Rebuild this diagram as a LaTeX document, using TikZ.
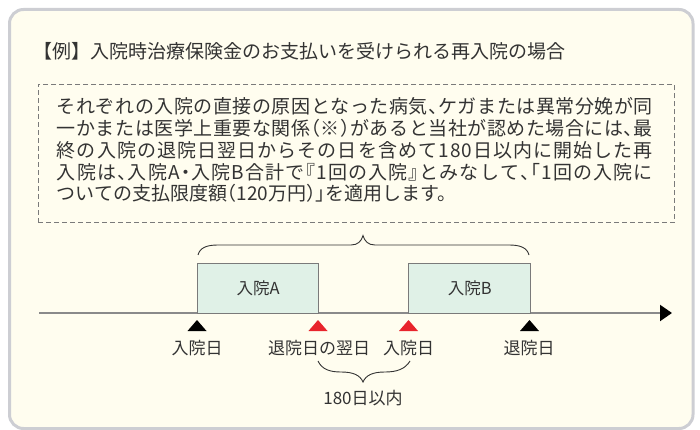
\documentclass[tikz,border=0pt]{standalone}
\usepackage{fontspec}
\setmainfont{Noto Sans CJK JP}
\newfontfamily\bodyfont[RawFeature=+halt]{Noto Sans CJK JP}
\usetikzlibrary{arrows.meta}
\definecolor{cream}{HTML}{FFFDEF}
\definecolor{outerline}{HTML}{CDCED3}
\definecolor{txt}{HTML}{333333}
\definecolor{dashcol}{HTML}{7A7A7A}
\definecolor{mint}{HTML}{E0F1E7}
\definecolor{boxline}{HTML}{7A7A7A}
\definecolor{axisgray}{HTML}{8A8A8A}
\definecolor{mred}{HTML}{E8242C}
\makeatletter
\def\my@spread#1{\ifx#1\@nil\else#1\hskip 0pt plus 1fil\relax\expandafter\my@spread\fi}
\newcommand\jline[1]{\hbox to 596pt{\my@spread#1\@nil\unskip}}
\makeatother
\tikzset{
  bodytext/.style={anchor=west, inner sep=0pt, text=txt, font=\bodyfont\fontsize{19}{22}\selectfont},
  stay/.style={draw=boxline, line width=1.4pt, fill=mint, anchor=north west, inner sep=0pt},
  stlabel/.style={inner sep=0pt, text=txt, font=\fontsize{16.5}{20}\selectfont},
  datelabel/.style={inner sep=0pt, text=txt, font=\fontsize{17}{20}\selectfont},
  bracecurve/.style={draw=txt, line width=0.9pt}
}
\begin{document}
\begin{tikzpicture}[x=1pt,y=-1pt]
\useasboundingbox (0,0) rectangle (700,430);
% outer panel
\draw[line width=3pt, draw=outerline, fill=cream, rounded corners=14pt] (9.5,9.5) rectangle (693,428.5);
% title
\node[anchor=west, inner sep=0pt, text=txt, font=\fontsize{19}{22}\selectfont] (title) at (33,51)
  {【例】入院時治療保険金のお支払いを受けられる再入院の場合};
% dashed note box
\node[draw=dashcol, line width=1pt, dash pattern=on 5pt off 3pt, anchor=north west,
      minimum width=636pt, minimum height=138pt, inner sep=0pt] (note) at (37.5,84) {};
\node[bodytext] (l1) at (56.7,106.7) {\jline{それぞれの入院の直接の原因となった病気、ケガまたは異常分娩が同}};
\node[bodytext] (l2) at (56.7,128.4) {\jline{一かまたは医学上重要な関係（※）があると当社が認めた場合には、最}};
\node[bodytext] (l3) at (56.7,150.1) {\jline{終の入院の退院日翌日からその日を含めて180日以内に開始した再}};
\node[bodytext] (l4) at (56.7,171.8) {\jline{入院は、入院A・入院B合計で『1回の入院』とみなして、「1回の入院に}};
\node[bodytext] (l5) at (56.7,193.5) {ついての支払限度額（120万円）」を適用します。};
% timeline
\coordinate (ax0) at (39,313);
\coordinate (ax1) at (672,313);
\draw[line width=2pt, draw=axisgray, -{Triangle[length=12pt,width=16pt,color=black]}] (ax0) -- (ax1);
% stays
\node[stay, minimum width=121pt, minimum height=50pt] (stayA) at (197,263) {};
\node[stlabel] (labA) at (stayA.center) {入院A};
\node[stay, minimum width=122pt, minimum height=50pt] (stayB) at (408,263) {};
\node[stlabel] (labB) at (stayB.center) {入院B};
% markers
\fill[black] (197,320) -- ++(9.5,11) -- ++(-19,0) -- cycle;
\fill[mred] (318,320) -- ++(9.5,11) -- ++(-19,0) -- cycle;
\fill[mred] (408.5,320) -- ++(9.5,11) -- ++(-19,0) -- cycle;
\fill[black] (529.5,320) -- ++(9.5,11) -- ++(-19,0) -- cycle;
% date labels
\node[datelabel] (d1) at (197,348) {入院日};
\node[datelabel] (d2) at (319,348) {退院日の翌日};
\node[datelabel] (d3) at (408.5,348) {入院日};
\node[datelabel] (d4) at (529,348) {退院日};
% top brace
\draw[bracecurve] (198,255) .. controls (200,247.5) and (207,245) .. (218,245) -- (351,245)
  .. controls (358,245) and (361.5,241) .. (363,235.5)
  .. controls (364.5,241) and (368,245) .. (375,245) -- (509,245)
  .. controls (520,245) and (527,247.5) .. (529,255);
% bottom brace
\draw[bracecurve] (318,361) .. controls (322,369.5) and (330,372) .. (341,372)
  .. controls (353,372) and (360,375) .. (363,382)
  .. controls (366,375) and (373,372) .. (385,372)
  .. controls (396,372) and (405,369.5) .. (410,361);
\node[datelabel] (span) at (363,398) {180日以内};
\end{tikzpicture}
\end{document}
